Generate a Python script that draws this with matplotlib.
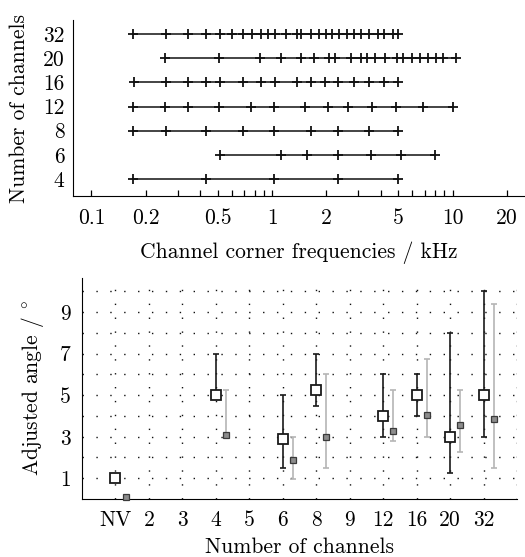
import matplotlib

matplotlib.use("Agg")
import matplotlib.pyplot as plt
import numpy as np

plt.rcParams["font.family"] = ["cmr10", "DejaVu Serif"]
plt.rcParams["mathtext.fontset"] = "cm"
plt.rcParams["axes.unicode_minus"] = False
plt.rcParams["axes.formatter.use_mathtext"] = True

# top panel: channel corner frequencies (kHz) per configuration
channel_rows = ["4", "6", "8", "12", "16", "20", "32"]
freqs_4 = [0.17, 0.43, 1.03, 2.33, 5.0]
freqs_6 = [0.515, 1.12, 1.56, 2.33, 3.52, 5.15, 8.0]
freqs_8 = [0.17, 0.258, 0.43, 0.69, 1.03, 1.64, 2.33, 3.45, 5.0]
freqs_12 = [0.17, 0.257, 0.342, 0.511, 0.767, 1.024, 1.53, 2.05, 2.64,
            3.57, 4.86, 6.9, 10.0]
freqs_16 = [0.171, 0.259, 0.344, 0.431, 0.515, 0.691, 0.869, 1.039, 1.375,
            1.645, 1.967, 2.327, 2.844, 3.445, 4.164, 5.0]
freqs_20 = [0.254, 0.507, 0.853, 1.115, 1.447, 1.709, 2.078, 2.22, 2.74,
            3.1, 3.38, 3.72, 4.23, 4.9, 5.35, 5.97, 6.61, 7.32, 8.05,
            8.86, 10.45]
freqs_32 = [0.17, 0.259, 0.344, 0.431, 0.515, 0.604, 0.691, 0.775, 0.869,
            0.956, 1.039, 1.188, 1.37, 1.447, 1.645, 1.821, 1.991, 2.15,
            2.336, 2.587, 2.847, 3.112, 3.461, 3.881, 4.147, 4.664, 5.0]
all_freqs = [freqs_4, freqs_6, freqs_8, freqs_12, freqs_16, freqs_20, freqs_32]

freq_ticks = [0.1, 0.2, 0.3, 0.4, 0.5, 0.6, 0.7, 0.8, 0.9, 1, 2, 3, 4, 5, 6,
              7, 8, 9, 10, 20]
freq_labels = {0.1: "0.1", 0.2: "0.2", 0.5: "0.5", 1: "1", 2: "2", 5: "5",
               10: "10", 20: "20"}

# bottom panel: adjusted angle per number of channels
categories = ["NV", "2", "3", "4", "5", "6", "8", "9", "12", "16", "20", "32"]
measured = ["NV", "4", "6", "8", "12", "16", "20", "32"]
white_val = [1.0, 5.0, 2.9, 5.25, 4.0, 5.0, 3.0, 5.0]
white_lo = [1.0, 5.0, 1.5, 4.5, 3.0, 4.0, 1.25, 3.0]
white_hi = [1.0, 7.0, 5.0, 7.0, 6.0, 6.0, 8.0, 10.0]
gray_val = [0.1, 3.1, 1.9, 3.0, 3.3, 4.05, 3.55, 3.85]
gray_lo = [0.1, 3.1, 0.95, 1.5, 2.8, 3.0, 2.25, 1.5]
gray_hi = [0.1, 5.25, 3.0, 6.0, 5.25, 6.75, 5.25, 9.4]

W, H = 525, 557
fig = plt.figure(figsize=(W / 100, H / 100), dpi=100)
fs = 15.5

# ---- top panel
ax1 = fig.add_axes([73 / W, 1 - 196 / H, (W - 73) / W, 176 / H])
for i, fr in enumerate(all_freqs):
    ax1.plot(fr, [i] * len(fr), color="#111111", lw=1.1, marker="+",
             ms=7, mew=1.3)
ax1.set_xscale("log")
ax1.set_xlim(0.079, 25.2)
ax1.set_ylim(-0.7, 6.58)
ax1.set_yticks(range(len(channel_rows)))
ax1.set_yticklabels(channel_rows, fontsize=fs)
ax1.xaxis.set_minor_locator(matplotlib.ticker.NullLocator())
ax1.set_xticks(freq_ticks)
ax1.set_xticklabels([freq_labels.get(t, "") for t in freq_ticks], fontsize=fs)
ax1.tick_params(axis="x", direction="in", length=4.5, width=0.9, pad=9)
ax1.tick_params(axis="y", length=0, pad=6)
ax1.spines["top"].set_visible(False)
ax1.spines["right"].set_visible(False)
ax1.set_xlabel("Channel corner frequencies / kHz", fontsize=fs, labelpad=10)
ax1.set_ylabel("Number of channels", fontsize=fs, labelpad=10)

# ---- bottom panel
ax2 = fig.add_axes([82 / W, 1 - 499 / H, (517 - 82) / W, 221 / H])
xpos = np.array([categories.index(c) + 1 for c in measured], dtype=float)
wv, gv = np.array(white_val), np.array(gray_val)

for y in range(1, 11):
    ax2.axhline(y, color="#111111", lw=1.0, ls=(0, (1, 9)), zorder=0)
for x in range(1, 14):
    ax2.axvline(x, color="#111111", lw=1.0, ls=(0, (1, 9)), zorder=0)

ax2.errorbar(xpos + 0.3, gv, yerr=[gv - np.array(gray_lo), np.array(gray_hi) - gv],
             fmt="none", ecolor="#b5b5b5", elinewidth=1.2, capsize=2.5,
             capthick=1.2, zorder=2)
ax2.plot(xpos + 0.3, gv, "s", ms=5, mfc="#8c8c8c", mec="#3a3a3a", mew=0.9,
         zorder=3, clip_on=False)
ax2.errorbar(xpos, wv, yerr=[wv - np.array(white_lo), np.array(white_hi) - wv],
             fmt="none", ecolor="#1a1a1a", elinewidth=1.2, capsize=2.5,
             capthick=1.2, zorder=4)
ax2.plot(xpos, wv, "s", ms=7, mfc="white", mec="#1a1a1a", mew=1.3,
         zorder=5, clip_on=False)

ax2.set_xlim(0, 13)
ax2.set_ylim(0, 10.65)
ax2.set_xticks(range(1, len(categories) + 1))
ax2.set_xticklabels(categories, fontsize=fs)
ax2.set_yticks([1, 3, 5, 7, 9])
ax2.set_yticklabels(["1", "3", "5", "7", "9"], fontsize=fs)
ax2.tick_params(length=0, pad=8)
ax2.spines["top"].set_visible(False)
ax2.spines["right"].set_visible(False)
ax2.set_xlabel("Number of channels", fontsize=fs, labelpad=6)
ax2.set_ylabel(r"Adjusted angle / $^{\circ}$", fontsize=fs, labelpad=10)

fig.savefig("out.png", dpi=100)
